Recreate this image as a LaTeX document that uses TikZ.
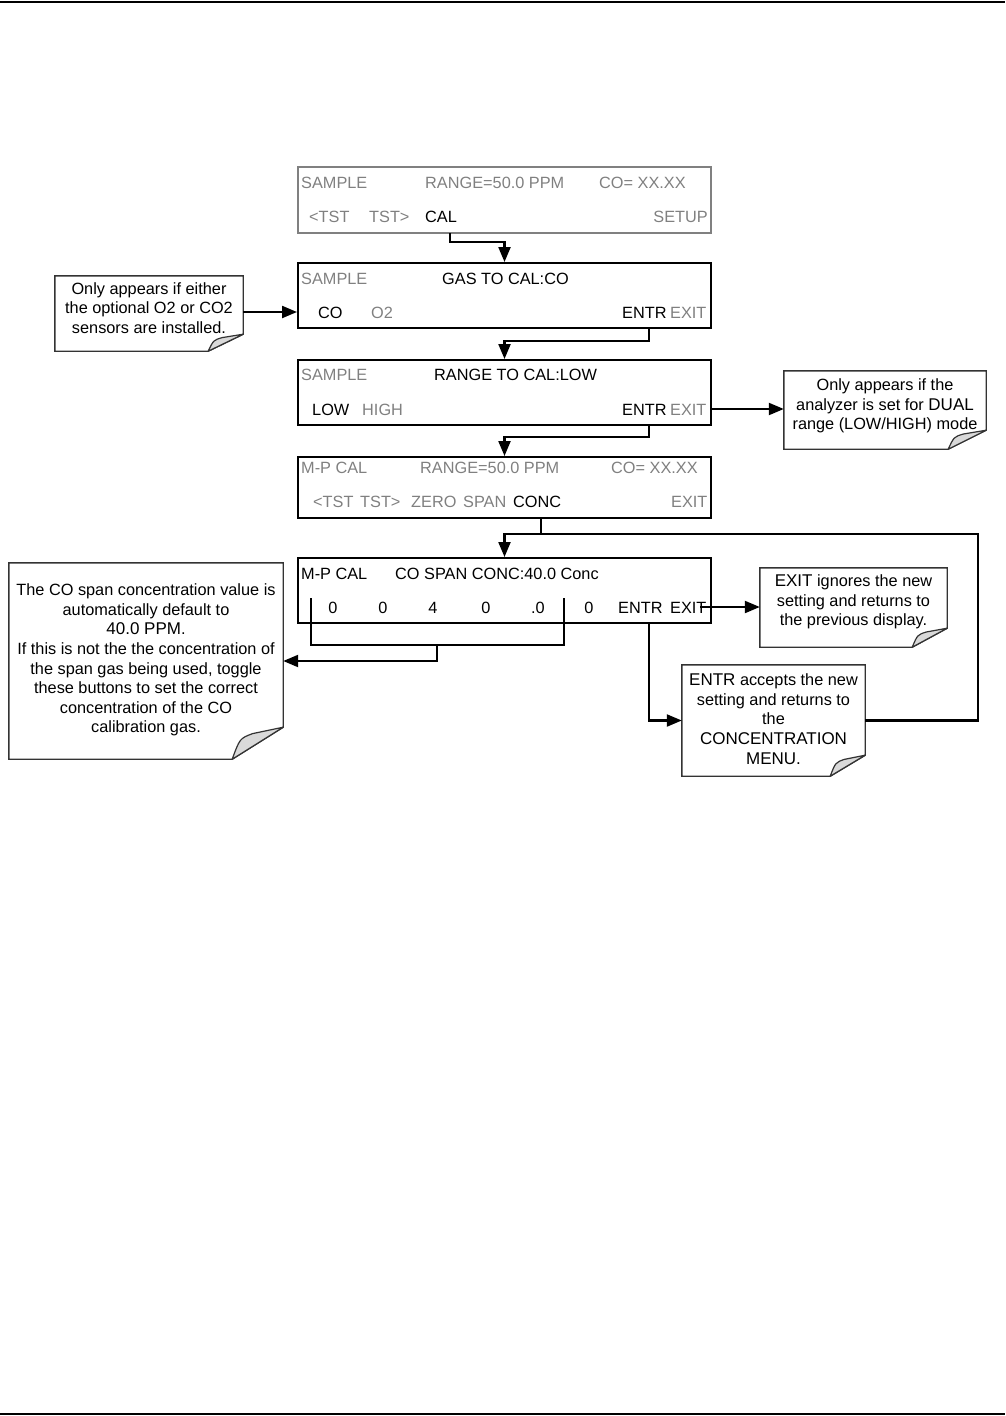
\documentclass[tikz,border=0pt]{standalone}
\usepackage{fontspec}
\setmainfont{Liberation Sans}
\usetikzlibrary{arrows.meta,calc}
\definecolor{dim}{HTML}{808080}
\definecolor{noteline}{HTML}{333333}
\definecolor{foldfill}{HTML}{D9D9D9}
\newcommand\kw[1]{{\fontsize{17}{19.6}\selectfont #1}}
\newcommand\notefold[3]{%
  \draw[noteedge] (#1.north west) -- (#1.north east) -- ($(#1.south east)+(0,-#3)$)
    -- ($(#1.south east)+(-#2,0)$)
    -- (#1.south west) -- cycle;
  \filldraw[foldstyle] ($(#1.south east)+(0,-#3)$) -- ($(#1.south east)+(-0.6*#2,-0.8*#3)$)
    .. controls ($(#1.south east)+(-0.85*#2,-0.65*#3)$) .. ($(#1.south east)+(-#2,0)$)
    -- cycle;
}
\begin{document}
\begin{tikzpicture}[x=1pt,y=-1pt,
  font=\fontsize{16.3}{19.6}\selectfont,
  scr/.style={draw=black,line width=2pt,minimum width=413pt,minimum height=65pt,inner sep=0pt},
  lbl/.style={anchor=base west,inner sep=0pt},
  dimlbl/.style={lbl,text=dim},
  clbl/.style={anchor=base,inner sep=0pt},
  conn/.style={line width=2.2pt,-{Triangle[length=15pt,width=12pt]}},
  wire/.style={line width=2pt},
  notearea/.style={inner sep=0pt},
  notetext/.style={align=center,inner sep=0pt},
  noteedge/.style={draw=noteline,line width=1.4pt,fill=white},
  foldstyle/.style={draw=noteline,line width=1.2pt,fill=foldfill,line join=round},
  rule/.style={line width=2pt}
]
\useasboundingbox (0,0) rectangle (1005,1416);
\coordinate (hl) at (0,1.5); \coordinate (hr) at (1005,1.5);
\coordinate (fl) at (0,1414); \coordinate (fr) at (1005,1414);
\draw[rule] (hl) -- (hr);
\draw[rule] (fl) -- (fr);

% screens
\node[scr,draw=dim,minimum height=66pt] (b1) at (504.5,200) {};
\node[scr] (b2) at (504.5,295.5) {};
\node[scr] (b3) at (504.5,392.5) {};
\node[scr,minimum height=61pt] (b4) at (504.5,487.5) {};
\node[scr] (b5) at (504.5,590.5) {};

% screen 1
\node[dimlbl] (s1a) at (301,188) {SAMPLE};
\node[dimlbl] (s1b) at (425,188) {RANGE=50.0 PPM};
\node[dimlbl] (s1c) at (599,188) {CO= XX.XX};
\node[dimlbl] (s1d) at (309,222) {<TST};
\node[dimlbl] (s1e) at (369,222) {TST>};
\node[lbl] (cal) at (425,222) {CAL};
\node[dimlbl,anchor=base east] (s1f) at (708,222) {SETUP};

% screen 2
\node[dimlbl] (s2a) at (301,284) {SAMPLE};
\node[lbl] (s2b) at (442,284) {GAS TO CAL:CO};
\node[lbl] (s2c) at (318,318) {CO};
\node[dimlbl] (s2d) at (371,318) {O2};
\node[lbl] (entr2) at (622,318) {ENTR};
\node[dimlbl] (s2e) at (670,318) {EXIT};

% screen 3
\node[dimlbl] (s3a) at (301,380) {SAMPLE};
\node[lbl] (s3b) at (434,380) {RANGE TO CAL:LOW};
\node[lbl] (s3c) at (312,415) {LOW};
\node[dimlbl] (s3d) at (362,415) {HIGH};
\node[lbl] (entr3) at (622,415) {ENTR};
\node[dimlbl] (s3e) at (670,415) {EXIT};

% screen 4
\node[dimlbl] (s4a) at (301,473) {M-P CAL};
\node[dimlbl] (s4b) at (420,473) {RANGE=50.0 PPM};
\node[dimlbl] (s4c) at (611,473) {CO= XX.XX};
\node[dimlbl] (s4d) at (313,507) {<TST};
\node[dimlbl] (s4e) at (360,507) {TST>};
\node[dimlbl] (s4f) at (411,507) {ZERO};
\node[dimlbl] (s4g) at (463,507) {SPAN};
\node[lbl] (conc) at (513,507) {CONC};
\node[dimlbl] (s4h) at (671,507) {EXIT};

% screen 5
\node[lbl] (s5a) at (301,579) {M-P CAL};
\node[lbl] (s5b) at (395,579) {CO SPAN CONC:40.0 Conc};
\node[clbl] (d1) at (333,613) {0};
\node[clbl] (d2) at (383,613) {0};
\node[clbl] (d3) at (433,613) {4};
\node[clbl] (d4) at (486,613) {0};
\node[clbl] (d5) at (538,613) {.0};
\node[clbl] (d6) at (589,613) {0};
\node[lbl] (entr5) at (618,613) {ENTR};
\node[lbl] (exit5) at (670,613) {EXIT};

% notes
\node[notearea,minimum width=188pt,minimum height=75pt] (n1) at (149,313.5) {};
\node[notearea,minimum width=202pt,minimum height=78pt] (n2) at (885,410) {};
\node[notearea,minimum width=274pt,minimum height=196pt] (n3) at (146,661) {};
\node[notearea,minimum width=187pt,minimum height=79pt] (n4) at (853.5,607.5) {};
\node[notearea,minimum width=183pt,minimum height=111pt] (n5) at (773.5,720.5) {};
\notefold{n1}{35}{17}
\notefold{n2}{38}{19}
\notefold{n3}{51}{32}
\notefold{n4}{35}{19}
\notefold{n5}{35}{21}

\node[notetext] (t1) at (149,308) {Only appears if either\\the optional O2 or CO2\\sensors are installed.};
\node[notetext] (t2) at (885,406) {Only appears if the\\analyzer is set for \kw{DUAL}\\range (LOW/HIGH) mode};
\node[notetext] (t3) at (146,660) {The CO span concentration value is\\automatically default to\\\kw{40.0 PPM}.\\If this is not the the concentration of\\the span gas being used, toggle\\these buttons to set the correct\\concentration of the CO\\calibration gas.};
\node[notetext] (t4) at (853.5,602) {\kw{EXIT} ignores the new\\setting and returns to\\the previous display.};
\node[notetext] (t5) at (773.5,719) {\kw{ENTR} accepts the new\\setting and returns to\\the\\\kw{CONCENTRATION}\\\kw{MENU.}};

% connectors
\coordinate (c1) at (450,233);
\draw[conn] (c1) -- ++(0,9) -| (b2.north);
\coordinate (c2) at (649,328);
\draw[conn] (c2) -- ++(0,13) -| (b3.north);
\coordinate (c3) at (649,425);
\draw[conn] (c3) -- ++(0,12) -| (b4.north);
\draw[conn] (n1.east |- 0,312) -- (b2.west |- 0,312);
\draw[conn] (b3.east |- 0,409) -- (n2.west |- 0,409);

\coordinate (c4) at (541,518);
\coordinate (loopR) at (978,534);
\draw[wire] (c4) -- (c4 |- loopR);
\draw[conn] (n5.east) -| (loopR) -| (b5.north);

\coordinate (br1) at (311,598);
\coordinate (br2) at (564,598);
\coordinate (brm) at (437,645);
\draw[wire] (br1) |- (brm) -| (br2);
\draw[conn] (brm) |- (n3.east);

\coordinate (x5) at (700,607);
\draw[conn] (x5) -- (n4.west |- x5);
\coordinate (e5) at (649,623);
\draw[conn] (e5) |- (n5.west);
\end{tikzpicture}
\end{document}
